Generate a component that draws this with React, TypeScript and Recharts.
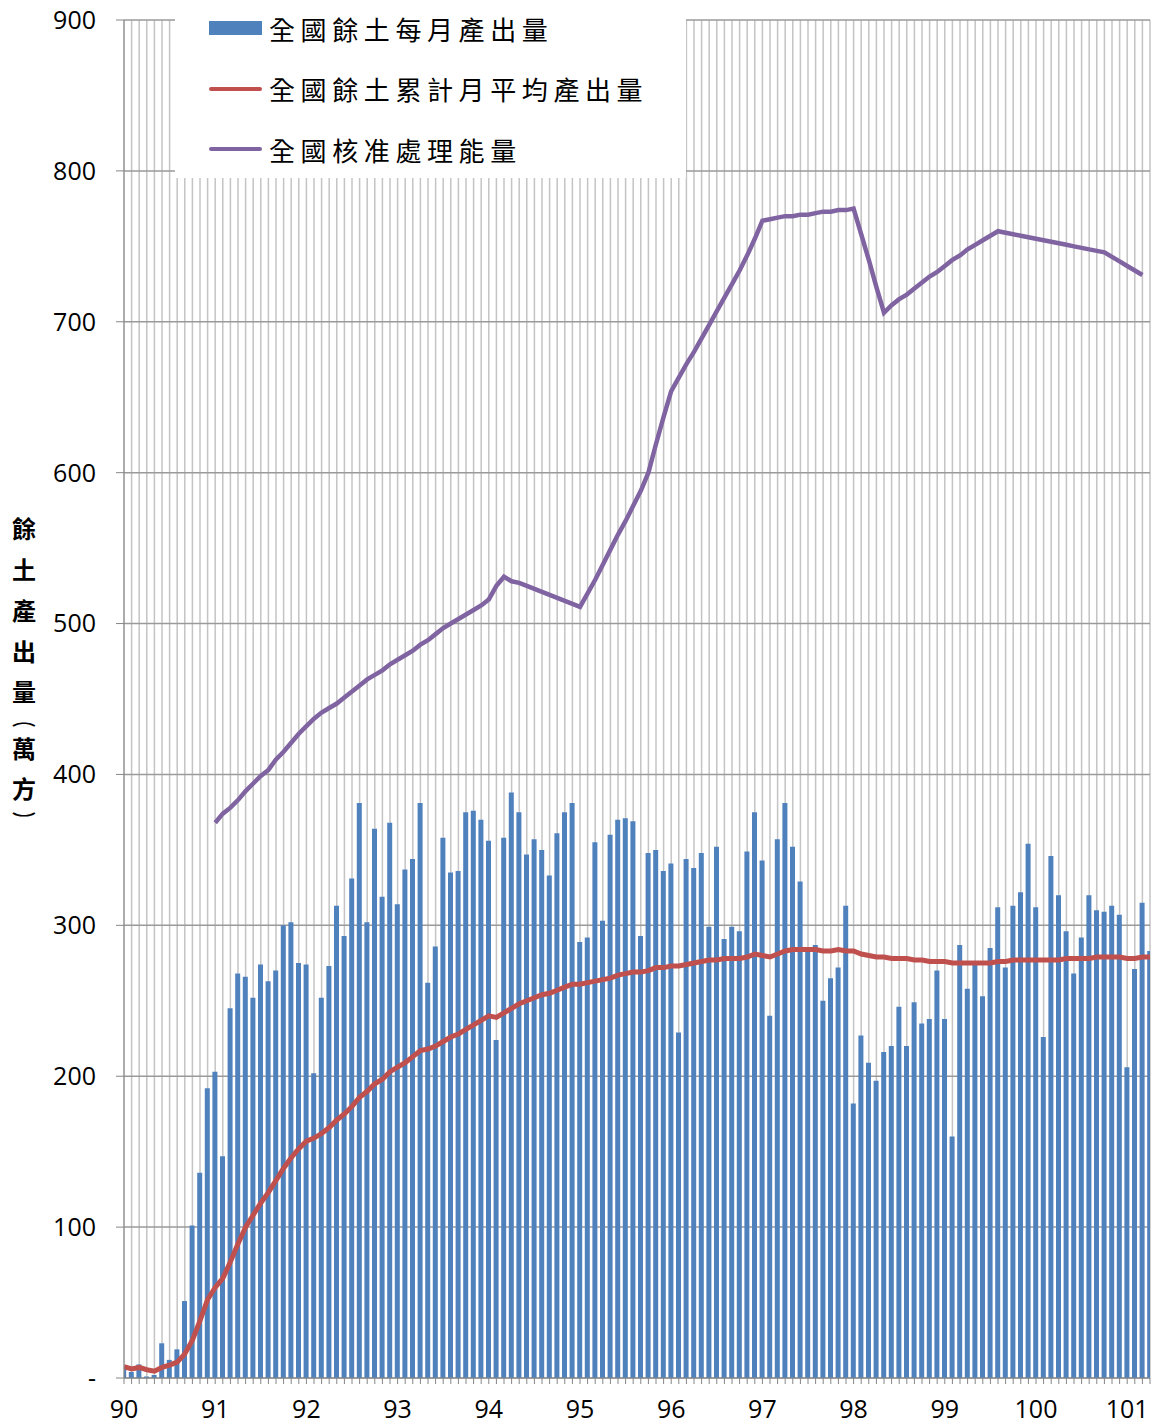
import { ComposedChart, Bar, Line, XAxis, YAxis, CartesianGrid, Legend } from 'recharts'

// 90年1月 ~ 101年4月，每月一筆 (單位：萬方)
const yearLabels = ['90', '91', '92', '93', '94', '95', '96', '97', '98', '99', '100', '101']

// 全國餘土每月產出量
const monthlyOutput = [
  7, 4, 9, 1, 2, 23, 12, 19, 51, 101, 136, 192,
  203, 147, 245, 268, 266, 252, 274, 263, 270, 300, 302, 275,
  274, 202, 252, 273, 313, 293, 331, 381, 302, 364, 319, 368,
  314, 337, 344, 381, 262, 286, 358, 335, 336, 375, 376, 370,
  356, 224, 358, 388, 375, 347, 357, 350, 333, 361, 375, 381,
  289, 292, 355, 303, 360, 370, 371, 369, 293, 348, 350, 336,
  341, 229, 344, 338, 348, 299, 352, 291, 299, 296, 349, 375,
  343, 240, 357, 381, 352, 329, 283, 287, 250, 265, 272, 313,
  182, 227, 209, 197, 216, 220, 246, 220, 249, 235, 238, 270,
  238, 160, 287, 258, 274, 253, 285, 312, 272, 313, 322, 354,
  312, 226, 346, 320, 296, 268, 292, 320, 310, 309, 313, 307,
  206, 271, 315, 283,
]

// 全國餘土累計月平均產出量
const cumulativeAvg = [
  7.5, 6, 7, 5.5, 4.5, 7, 8.5, 10.5, 16, 25, 38, 52,
  60, 66, 77, 89, 100, 108, 116, 123, 131, 139, 146, 152,
  157, 159, 162, 166, 171, 175, 180, 186, 190, 195, 198, 203,
  206, 209, 213, 217, 218, 220, 223, 226, 228, 231, 234, 237,
  240, 239, 242, 245, 248, 250, 252, 254, 255, 257, 259, 261,
  261, 262, 263, 264, 265, 267, 268, 269, 269, 270, 272, 272,
  273, 273, 274, 275, 276, 277, 277, 278, 278, 278, 279, 281,
  280, 279, 281, 283, 284, 284, 284, 284, 283, 283, 284, 283,
  283, 281, 280, 279, 279, 278, 278, 278, 277, 277, 276, 276,
  276, 275, 275, 275, 275, 275, 275, 276, 276, 277, 277, 277,
  277, 277, 277, 277, 278, 278, 278, 278, 279, 279, 279, 279,
  278, 278, 279, 279,
]

// 全國核准處理能量
const approvedCapacity = [
  null, null, null, null, null, null, null, null, null, null, null, null,
  368, 374, 378, 383, 389, 394, 399, 403, 410, 415, 421, 427,
  432, 437, 441, 444, 447, 451, 455, 459, 463, 466, 469, 473,
  476, 479, 482, 486, 489, 493, 497, 500, 503, 506, 509, 512,
  516, 525, 531, 528, 527, 525, 523, 521, 519, 517, 515, 513,
  511, 520, 529, 539, 549, 559, 568, 578, 588, 600, 619, 637,
  654, 663, 672, 680, 689, 698, 707, 716, 725, 734, 744, 755,
  767, 768, 769, 770, 770, 771, 771, 772, 773, 773, 774, 774,
  775, 758, 741, 723, 706, 711, 715, 718, 722, 726, 730, 733,
  737, 741, 744, 748, 751, 754, 757, 760, 759, 758, 757, 756,
  755, 754, 753, 752, 751, 750, 749, 748, 747, 746, 743, 740,
  737, 734, 731, null,
]

const yTicks = [0, 100, 200, 300, 400, 500, 600, 700, 800, 900]
const titleChars = ['餘', '土', '產', '出', '量', '︵', '萬', '方', '︶']
const legendOrder = ['全國餘土每月產出量', '全國餘土累計月平均產出量', '全國核准處理能量']

const data = monthlyOutput.map((v, i) => ({
  idx: i,
  output: v,
  avg: cumulativeAvg[i],
  capacity: approvedCapacity[i],
}))
const monthTicks = data.map(d => d.idx)

const numFont = '"Open Sans", "Liberation Sans", sans-serif'
const cjkFont = '"Noto Sans CJK TC", "Noto Sans CJK SC", sans-serif'

// vertical stacked axis title, bold; brackets drawn smaller so they sit tight
function YTitle() {
  const centers = [527, 568, 609, 650, 690, 719, 747, 787, 818]
  return (
    <g>
      {titleChars.map((ch, k) => {
        const bracket = ch === '︵' || ch === '︶'
        return (
          <text
            key={k}
            x={24}
            y={centers[k]}
            textAnchor="middle"
            dominantBaseline="central"
            fontFamily={cjkFont}
            fontWeight={700}
            fontSize={bracket ? 14 : 24}
            transform={bracket ? `scale(1.7 1) translate(${24 / 1.7 - 24} 0)` : undefined}
            fill="#000"
          >
            {ch}
          </text>
        )
      })}
    </g>
  )
}

function LegendBox(props: any) {
  const items = [...(props.payload || [])].sort(
    (a: any, b: any) => legendOrder.indexOf(a.value) - legendOrder.indexOf(b.value)
  )
  return (
    <div style={{ position: 'relative', width: 511, height: 168 }}>
      {items.map((p: any, k: number) => (
        <div
          key={k}
          style={{
            position: 'absolute',
            left: 0,
            top: k * 60.5,
            height: 36,
            display: 'flex',
            alignItems: 'center',
          }}
        >
          <span
            style={{
              display: 'inline-block',
              marginLeft: 34,
              width: 53,
              height: p.type === 'rect' ? 14 : 4,
              background: p.color,
              borderRadius: p.type === 'rect' ? 0 : 2,
            }}
          />
          <span
            style={{
              marginLeft: 7,
              fontFamily: cjkFont,
              fontSize: 26,
              letterSpacing: 5.6,
              color: '#000',
              whiteSpace: 'nowrap',
            }}
          >
            {p.value}
          </span>
        </div>
      ))}
    </div>
  )
}

export default function App() {
  return (
    <div style={{ position: 'absolute', left: 0, top: 0, background: '#fff' }}>
      <ComposedChart
        width={1152}
        height={1427}
        data={data}
        margin={{ top: 20, right: 2, bottom: 19, left: 0 }}
      >
        <CartesianGrid vertical horizontal={false} stroke="#c4c4c4" strokeWidth={1.5} />
        <CartesianGrid horizontal vertical={false} stroke="#9a9a9a" strokeWidth={1.5} />
        <XAxis
          dataKey="idx"
          type="number"
          domain={[0, 135]}
          ticks={monthTicks}
          interval={0}
          allowDataOverflow
          tickFormatter={(v: number) => (v % 12 === 0 ? yearLabels[v / 12] : '')}
          tick={{ fontFamily: numFont, fontSize: 25, fill: '#000' }}
          tickSize={6}
          tickMargin={16}
          stroke="#868686"
        />
        <YAxis
          type="number"
          domain={[0, 900]}
          ticks={yTicks}
          interval={0}
          width={124}
          tickSize={8}
          tickMargin={20}
          tickFormatter={(v: number) => (v === 0 ? '-' : String(v))}
          tick={{ fontFamily: numFont, fontSize: 25, fill: '#000' }}
          stroke="#868686"
          label={<YTitle />}
        />
        <Legend
          content={<LegendBox />}
          layout="horizontal"
          verticalAlign="middle"
          align="center"
          wrapperStyle={{ left: 175, top: 10, width: 511, height: 168, background: '#fff', margin: 0, padding: 0 }}
        />
        <Bar
          dataKey="output"
          name="全國餘土每月產出量"
          fill="#4f81bd"
          barSize={5}
          isAnimationActive={false}
        />
        <Line
          type="linear"
          dataKey="avg"
          name="全國餘土累計月平均產出量"
          stroke="#c0504d"
          strokeWidth={5}
          dot={false}
          isAnimationActive={false}
        />
        <Line
          type="linear"
          dataKey="capacity"
          name="全國核准處理能量"
          stroke="#8064a2"
          strokeWidth={4.5}
          dot={false}
          isAnimationActive={false}
        />
      </ComposedChart>
    </div>
  )
}
